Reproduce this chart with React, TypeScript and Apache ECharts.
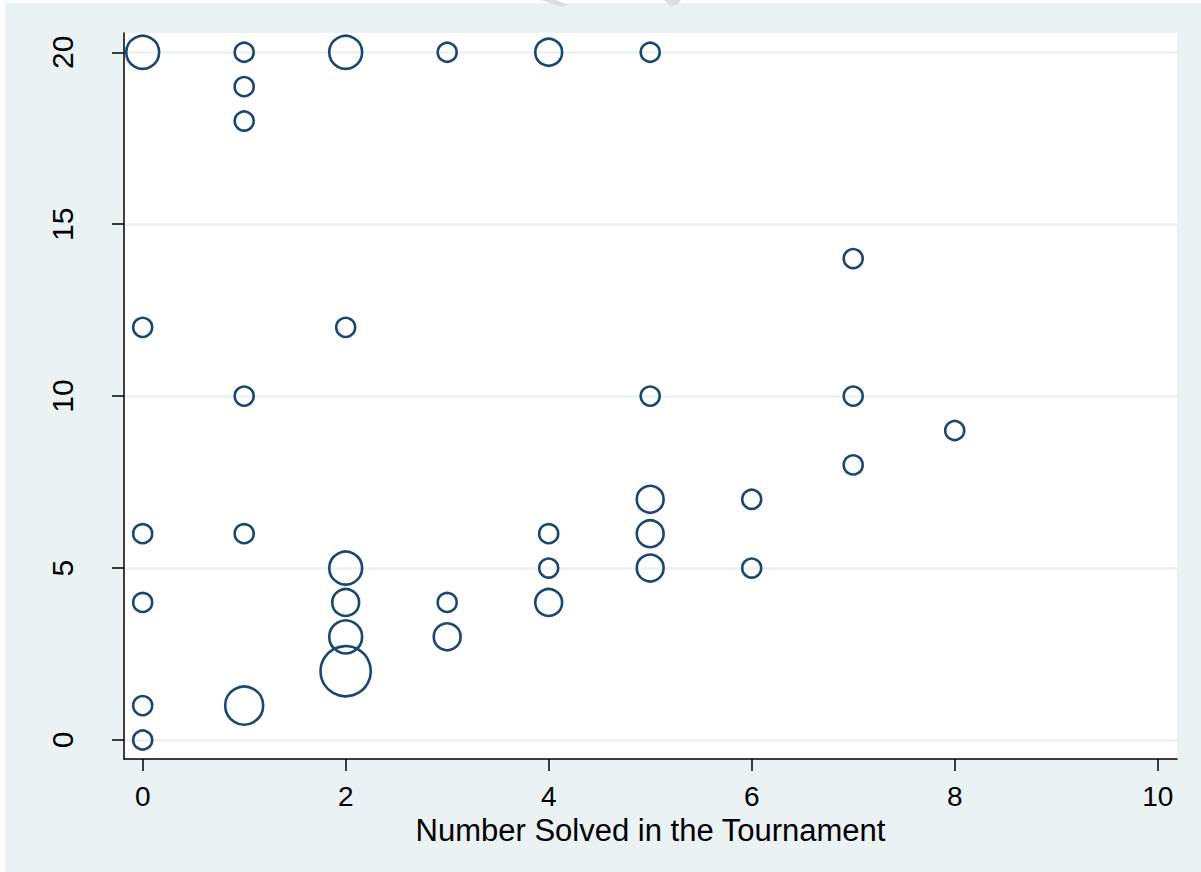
import React, { useEffect, useRef } from "react";
import * as echarts from "echarts";

// Number solved in the tournament (x), outcome (y), frequency of each pair (bubble weight)
const xValues = [0, 1, 2, 3, 4, 5, 1, 1, 7, 0, 2, 1, 5, 7, 8, 7, 5, 6, 0, 1, 4, 5, 2, 4, 5, 6, 0, 2, 3, 4, 2, 3, 2, 0, 1, 0];
const yValues = [20, 20, 20, 20, 20, 20, 19, 18, 14, 12, 12, 10, 10, 10, 9, 8, 7, 7, 6, 6, 6, 6, 5, 5, 5, 5, 4, 4, 4, 4, 3, 3, 2, 1, 1, 0];
const counts = [3, 1, 3, 1, 2, 1, 1, 1, 1, 1, 1, 1, 1, 1, 1, 1, 2, 1, 1, 1, 1, 2, 3, 1, 2, 1, 1, 2, 1, 2, 3, 2, 7, 1, 4, 1];

const xTicks = [0, 2, 4, 6, 8, 10];
const yTicks = [0, 5, 10, 15, 20];
const xTitle = "Number Solved in the Tournament";

const FONT = "'Liberation Sans', Arial, Helvetica, sans-serif";

export default function App() {
  const ref = useRef<HTMLDivElement>(null);

  useEffect(() => {
    if (!ref.current) return;
    const chart = echarts.init(ref.current, undefined, { renderer: "svg" });
    const data = xValues.map((x, i) => [x, yValues[i], counts[i]]);
    chart.setOption({
      animation: false,
      backgroundColor: "#ffffff",
      graphic: [
        {
          type: "rect",
          z: -10,
          silent: true,
          shape: { x: 5, y: 3, width: 1196, height: 869 },
          style: { fill: "#EAF2F3" },
        },
        {
          type: "polygon",
          z: -5,
          silent: true,
          shape: { points: [[541, 0], [556, 0], [568, 5], [561, 7]] },
          style: { fill: "#dedede" },
        },
        {
          type: "polygon",
          z: -5,
          silent: true,
          shape: { points: [[664, 0], [681, 0], [677, 5], [670, 6]] },
          style: { fill: "#dedede" },
        },
      ],
      grid: {
        left: 124,
        right: 24,
        top: 33,
        bottom: 113,
        show: true,
        backgroundColor: "#ffffff",
        borderWidth: 0,
      },
      xAxis: {
        type: "value",
        min: -0.184,
        max: 10.19,
        name: xTitle,
        nameLocation: "middle",
        nameGap: 46,
        nameTextStyle: { fontSize: 31, color: "#000", fontFamily: FONT },
        axisLine: { show: true, onZero: false, lineStyle: { color: "#000", width: 1.5 } },
        axisTick: { show: true, length: 12, customValues: xTicks, lineStyle: { color: "#000", width: 1.5 } },
        axisLabel: { customValues: xTicks, margin: 23, fontSize: 28, color: "#000", fontFamily: FONT },
        splitLine: { show: false },
      },
      yAxis: {
        type: "value",
        min: -0.553,
        max: 20.56,
        axisLine: { show: true, onZero: false, lineStyle: { color: "#000", width: 1.5 } },
        axisTick: { show: true, length: 12, customValues: yTicks, lineStyle: { color: "#000", width: 1.5 } },
        axisLabel: { customValues: yTicks, rotate: 90, margin: 47, fontSize: 30, color: "#000", fontFamily: FONT },
        splitLine: { show: true, lineStyle: { color: "#EAF2F3", width: 2.7 } },
      },
      series: [
        {
          type: "scatter",
          data,
          symbol: "circle",
          symbolSize: (v: number[]) => 19 * Math.sqrt(v[2]),
          itemStyle: { color: "rgba(0,0,0,0)", borderColor: "#1A476F", borderWidth: 2.6, opacity: 1 },
          emphasis: { disabled: true },
          silent: true,
        },
      ],
    });
    return () => chart.dispose();
  }, []);

  return (
    <div
      ref={ref}
      style={{ position: "fixed", left: 0, top: 0, width: 1201, height: 872 }}
    />
  );
}
